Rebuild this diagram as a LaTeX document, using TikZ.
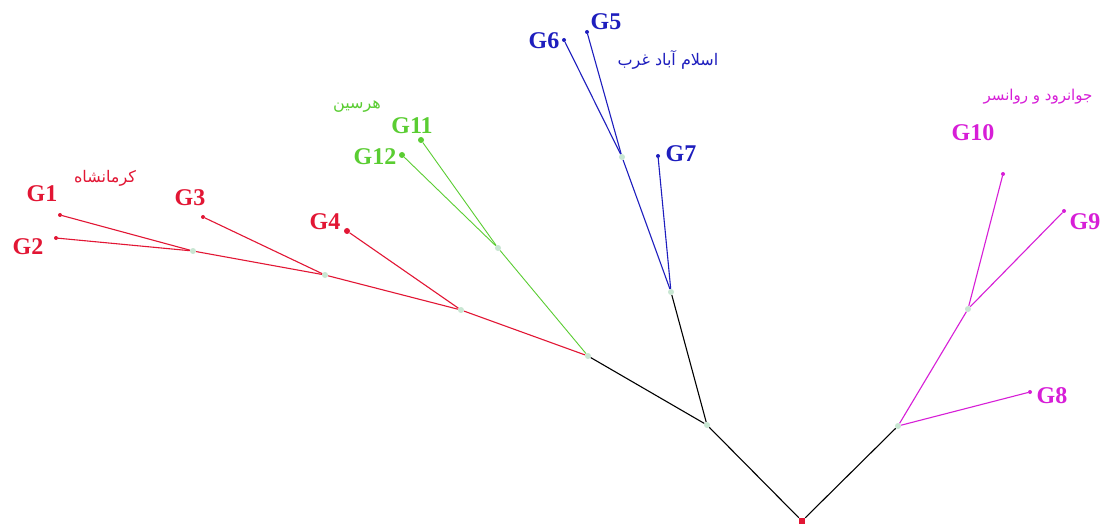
\documentclass[tikz,border=0pt]{standalone}
\usepackage{fontspec}
\setmainfont{Liberation Serif}
\newfontfamily\arabicfont[Script=Arabic]{DejaVu Sans}
\TeXXeTstate=1
\definecolor{cred}{RGB}{226,22,52}
\definecolor{cgreen}{RGB}{90,205,50}
\definecolor{cblue}{RGB}{30,30,190}
\definecolor{cmag}{RGB}{215,30,215}
\definecolor{cfaint}{RGB}{200,230,210}
\begin{document}
\begin{tikzpicture}[x=1pt,y=-1pt,
  tipdot/.style={circle,fill,inner sep=0pt,minimum size=4pt},
  bigdot/.style={circle,fill,inner sep=0pt,minimum size=6pt},
  inode/.style={circle,inner sep=0pt,minimum size=6pt,fill=cfaint},
  edge/.style={line width=1.1pt},
  lbl/.style={font=\fontsize{24}{24}\selectfont\bfseries,inner sep=0pt},
  arlbl/.style={font=\arabicfont\fontsize{16}{18}\selectfont,inner sep=0pt}]
\useasboundingbox (0,0) rectangle (1104,524);
\fill[white] (0,0) rectangle (1104,524);
% root and internal nodes
\node[rectangle,fill=cred,inner sep=0pt,minimum size=6pt] (R) at (802,521) {};
\node[inode] (A) at (707,425) {};
\node[inode] (M) at (898,426) {};
\node[inode] (B) at (588,356) {};
\node[inode] (C) at (671,292) {};
\node[inode] (D) at (622,157) {};
\node[inode] (E) at (498,248) {};
\node[inode] (F) at (461,310) {};
\node[inode] (H) at (325,275) {};
\node[inode] (I) at (193,251) {};
\node[inode] (N) at (968,309) {};
% tips
\node[tipdot,cred] (t1) at (60,215) {};
\node[tipdot,cred] (t2) at (56,238) {};
\node[tipdot,cred] (t3) at (203,217) {};
\node[bigdot,cred] (t4) at (347,231) {};
\node[tipdot,cblue] (t5) at (587,32) {};
\node[tipdot,cblue] (t6) at (564,40) {};
\node[tipdot,cblue] (t7) at (658,156) {};
\node[tipdot,cmag] (t8) at (1030,392) {};
\node[tipdot,cmag] (t9) at (1064,211) {};
\node[tipdot,cmag] (t10) at (1003,174) {};
\node[bigdot,cgreen] (t11) at (421,140) {};
\node[bigdot,cgreen] (t12) at (402,155) {};
% edges
\draw[edge,black] (R) -- (A);
\draw[edge,black] (R) -- (M);
\draw[edge,black] (A) -- (B);
\draw[edge,black] (A) -- (C);
\draw[edge,cred] (B) -- (F);
\draw[edge,cred] (F) -- (H);
\draw[edge,cred] (H) -- (I);
\draw[edge,cred] (I) -- (t1);
\draw[edge,cred] (I) -- (t2);
\draw[edge,cred] (H) -- (t3);
\draw[edge,cred] (F) -- (t4);
\draw[edge,cgreen,line width=0.9pt] (B) -- (E);
\draw[edge,cgreen,line width=0.9pt] (E) -- (t11);
\draw[edge,cgreen,line width=0.9pt] (E) -- (t12);
\draw[edge,cblue] (C) -- (D);
\draw[edge,cblue] (C) -- (t7);
\draw[edge,cblue] (D) -- (t5);
\draw[edge,cblue] (D) -- (t6);
\draw[edge,cmag] (M) -- (N);
\draw[edge,cmag] (M) -- (t8);
\draw[edge,cmag] (N) -- (t10);
\draw[edge,cmag] (N) -- (t9);
% labels
\node[lbl,cred] (l1) at (42,194) {G1};
\node[lbl,cred] (l2) at (28,247) {G2};
\node[lbl,cred] (l3) at (190,198) {G3};
\node[lbl,cred] (l4) at (325,222) {G4};
\node[lbl,cgreen] (l11) at (412,126) {G11};
\node[lbl,cgreen] (l12) at (375,157) {G12};
\node[lbl,cblue] (l6) at (544,41) {G6};
\node[lbl,cblue] (l5) at (606,22) {G5};
\node[lbl,cblue] (l7) at (681,154) {G7};
\node[lbl,cmag] (l10) at (973,133) {G10};
\node[lbl,cmag] (l9) at (1085,222) {G9};
\node[lbl,cmag] (l8) at (1052,396) {G8};
% region labels
\node[arlbl,cred] (ar1) at (105,178) {\beginR کرمانشاه\endR};
\node[arlbl,cgreen] (ar2) at (357,107) {\beginR هرسین\endR};
\node[arlbl,cblue] (ar3) at (668,60) {\beginR اسلام آباد غرب\endR};
\node[arlbl,cmag,font=\arabicfont\fontsize{15}{17}\selectfont] (ar4) at (1038,97) {\beginR جوانرود و روانسر\endR};
\end{tikzpicture}
\end{document}
